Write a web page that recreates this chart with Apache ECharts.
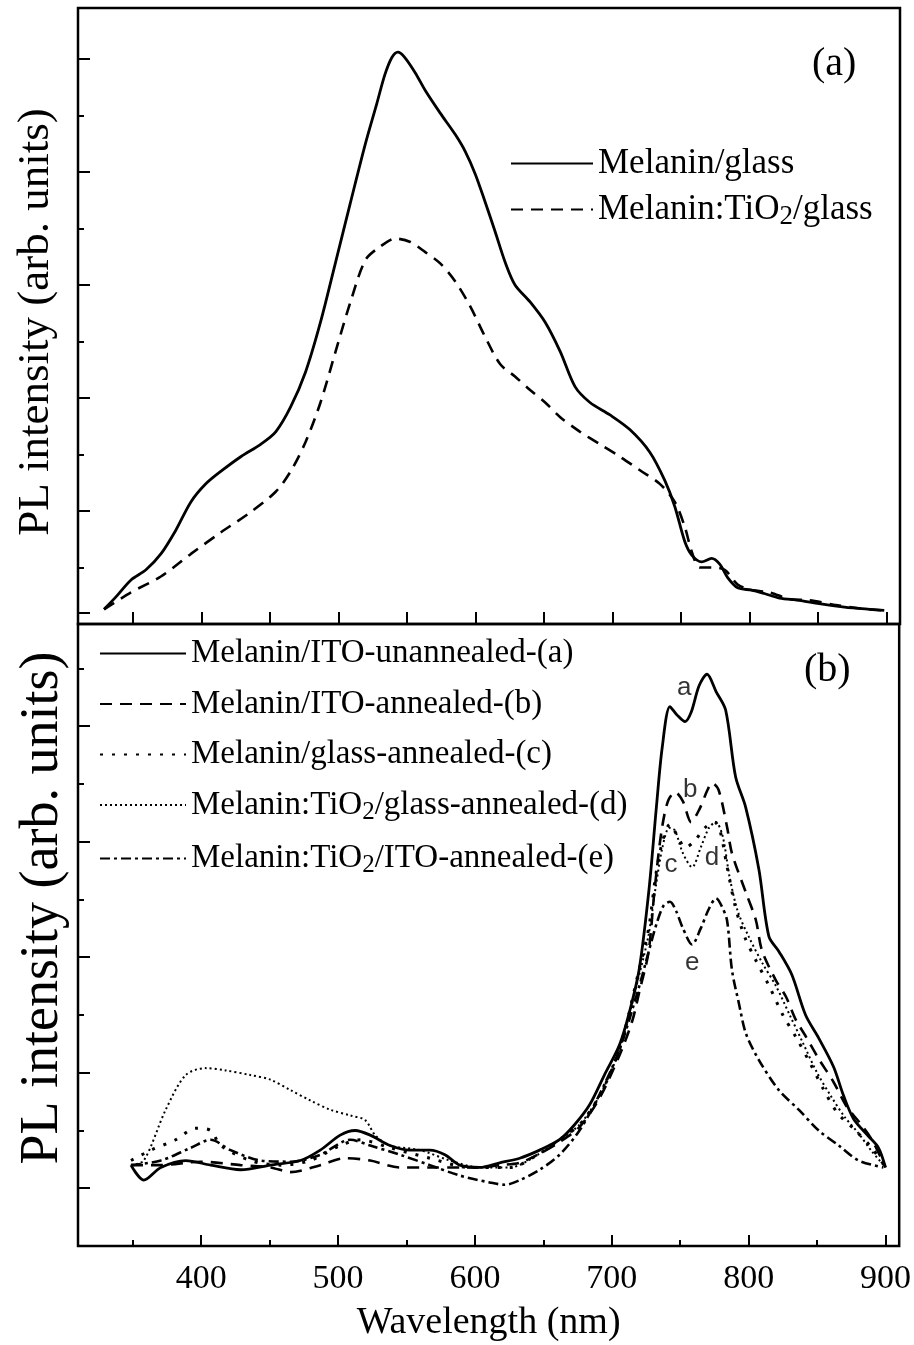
<!DOCTYPE html>
<html>
<head>
<meta charset="utf-8">
<script src="https://cdn.jsdelivr.net/npm/echarts@6/dist/echarts.min.js"></script>
<style>
  html, body { margin: 0; padding: 0; background: #fff; }
  #main { width: 914px; height: 1345px; }
</style>
</head>
<body>
<div id="main"></div>
<script>
// ---- panel (a) ----
const wlGlass = [329, 337.7, 348.7, 359.6, 370.5, 381.4, 392.4, 403.3, 414.2, 428.8, 443.3, 454.3, 465.2, 476.1, 487, 498, 508.9, 519.8, 528, 534, 539, 543.5, 548, 556, 563.5, 574.4, 585.4, 592.7, 600, 607, 614.5, 621.8, 629, 640, 651, 662, 672.8, 683.7, 698.3, 712.8, 727.4, 738.3, 745.6, 752.9, 758, 765.2, 772.5, 778.4, 784.2, 791.5, 801.7, 811, 822, 836.6, 851, 869.5, 887.6, 898.5];
const melaninGlass = [0.13, 0.24, 0.39, 0.48, 0.62, 0.83, 1.08, 1.24, 1.35, 1.48, 1.59, 1.70, 1.92, 2.23, 2.67, 3.20, 3.73, 4.25, 4.60, 4.86, 5.01, 5.06, 5.02, 4.88, 4.72, 4.52, 4.33, 4.18, 3.98, 3.74, 3.47, 3.20, 3.00, 2.85, 2.67, 2.41, 2.10, 1.96, 1.85, 1.72, 1.52, 1.27, 1.04, 0.73, 0.61, 0.55, 0.58, 0.53, 0.41, 0.32, 0.30, 0.27, 0.23, 0.21, 0.18, 0.15, 0.13, 0.12];

const wlTiO2Glass = [329, 348.7, 370.5, 392.4, 414.2, 436, 454.3, 465.2, 476.1, 487, 498, 508.9, 519.8, 530.7, 541.6, 552.6, 563.5, 574.4, 585.4, 596.3, 607.2, 618.1, 629, 640, 651, 662, 676.5, 691, 705.6, 720.2, 734.7, 745.6, 752.9, 758, 763.8, 772.5, 782, 791.5, 801.7, 814.8, 829.4, 844, 862, 880, 898.5];
const melaninTiO2Glass = [0.13, 0.28, 0.42, 0.62, 0.81, 0.99, 1.17, 1.35, 1.61, 1.96, 2.41, 2.85, 3.22, 3.34, 3.41, 3.38, 3.29, 3.19, 3.03, 2.81, 2.54, 2.30, 2.19, 2.07, 1.96, 1.83, 1.70, 1.59, 1.48, 1.36, 1.24, 1.08, 0.86, 0.64, 0.50, 0.50, 0.48, 0.35, 0.30, 0.28, 0.22, 0.21, 0.17, 0.14, 0.12];

// ---- panel (b) ----
const wlUnannealed = [348.7, 358.1, 370.5, 388.7, 406.9, 428.8, 450.6, 472.5, 487, 501.6, 512.5, 523.5, 538, 552.6, 567.1, 578.1, 589, 603.6, 618.1, 632.7, 647.3, 661.8, 672.8, 683.7, 694.6, 705.6, 712.8, 720.1, 727.4, 732.6, 736.9, 742.5, 747.5, 753.6, 758, 763.8, 769.6, 776.2, 783.2, 790.5, 797.8, 807.5, 814.8, 822.1, 831.5, 841.6, 851.2, 862.1, 869.4, 876.7, 887.6, 894.9, 900];
const unannealedITO = [0.70, 0.57, 0.68, 0.74, 0.70, 0.66, 0.70, 0.74, 0.83, 0.96, 1.00, 0.96, 0.87, 0.83, 0.83, 0.79, 0.70, 0.68, 0.72, 0.76, 0.83, 0.92, 1.05, 1.22, 1.48, 1.74, 2.02, 2.40, 3.11, 3.80, 4.32, 4.67, 4.60, 4.54, 4.62, 4.85, 4.95, 4.80, 4.64, 4.06, 3.80, 3.26, 2.68, 2.55, 2.35, 2.00, 1.80, 1.55, 1.30, 1.10, 0.95, 0.85, 0.68];

const wlAnnealedITO = [348.7, 370.5, 399.6, 428.8, 450.6, 465.2, 487, 505.2, 523.5, 545.3, 567.1, 589, 603.6, 618.1, 632.7, 647.3, 661.8, 676.4, 691, 705.6, 715, 720.1, 726.8, 731.1, 736.2, 741, 746.3, 752, 758, 764, 770, 773.3, 778, 784.2, 787.8, 798, 805.3, 809.7, 819.9, 827.2, 834.4, 841.5, 851.2, 862, 872, 880.3, 890, 900];
const annealedITO = [0.70, 0.70, 0.73, 0.70, 0.68, 0.64, 0.70, 0.76, 0.74, 0.68, 0.68, 0.68, 0.68, 0.70, 0.72, 0.80, 0.90, 1.03, 1.28, 1.65, 1.95, 2.20, 2.54, 3.06, 3.58, 3.85, 3.93, 3.85, 3.67, 3.78, 3.95, 4.01, 3.95, 3.63, 3.40, 3.06, 2.82, 2.56, 2.30, 2.16, 1.96, 1.82, 1.62, 1.42, 1.20, 1.08, 0.92, 0.68];

const wlGlassAnnealed = [348.7, 363.4, 381.4, 396, 406.9, 414.2, 436, 457.9, 479.7, 501.6, 516.2, 538, 567.1, 596.3, 625.4, 647.3, 661.8, 676.4, 691, 705.6, 720.1, 727, 732, 737, 742.5, 748, 753.6, 760, 768, 775, 779, 784, 790, 797, 805, 815, 825, 835, 845, 855, 865, 878, 890, 900];
const glassAnnealed = [0.74, 0.83, 0.92, 1.02, 1.00, 0.87, 0.74, 0.70, 0.74, 0.87, 0.92, 0.85, 0.76, 0.68, 0.68, 0.80, 0.92, 1.05, 1.30, 1.70, 2.40, 2.75, 3.20, 3.50, 3.65, 3.55, 3.45, 3.50, 3.62, 3.67, 3.60, 3.30, 2.95, 2.68, 2.48, 2.25, 2.00, 1.80, 1.58, 1.35, 1.15, 1.00, 0.85, 0.68];

const wlTiO2GlassAnnealed = [348.7, 358.1, 374.1, 388.7, 403.3, 417.8, 436, 450.6, 465.2, 479.7, 494.3, 508.9, 519.8, 527.1, 538, 559.9, 581.7, 603.6, 625.4, 647.3, 661.8, 676.4, 691, 705.6, 720.1, 727, 732, 737, 742, 746, 752, 758.7, 765, 771, 776, 781, 786, 792, 800, 810, 820, 830, 840, 850, 860, 870, 880, 890, 900];
const tio2GlassAnnealed = [0.70, 0.74, 1.18, 1.48, 1.54, 1.52, 1.48, 1.44, 1.35, 1.26, 1.18, 1.13, 1.09, 0.96, 0.87, 0.83, 0.74, 0.68, 0.68, 0.80, 0.92, 1.05, 1.30, 1.70, 2.35, 2.70, 3.10, 3.45, 3.62, 3.60, 3.40, 3.28, 3.45, 3.62, 3.67, 3.55, 3.20, 2.90, 2.68, 2.45, 2.25, 2.00, 1.75, 1.50, 1.30, 1.12, 0.98, 0.82, 0.68];

const wlTiO2ITO = [348.7, 370.5, 392.4, 406.9, 421.5, 443.3, 465.2, 487, 508.9, 523.5, 545.3, 567.1, 589, 610.9, 621.8, 632.7, 647.3, 661.8, 676.4, 691, 705.6, 720.1, 727, 733, 738, 742.5, 747, 752, 758.7, 765, 771, 776.2, 780, 784.2, 787.8, 792.9, 798, 807.5, 822, 836.6, 851.2, 865.8, 880.3, 898.5];
const tio2ITOAnnealed = [0.70, 0.74, 0.85, 0.92, 0.83, 0.74, 0.73, 0.79, 0.92, 0.87, 0.79, 0.70, 0.61, 0.55, 0.53, 0.57, 0.66, 0.79, 1.00, 1.31, 1.70, 2.25, 2.55, 2.80, 2.95, 2.98, 2.90, 2.75, 2.61, 2.75, 2.92, 3.01, 2.95, 2.82, 2.39, 2.10, 1.84, 1.61, 1.35, 1.18, 1.00, 0.87, 0.74, 0.68];

// curve letters in panel (b)
const curveLetters = ['a', 'b', 'c', 'd', 'e'];
const letterWl = [752.9, 757.4, 743.2, 773.3, 758.7];
const letterVal = [4.83, 3.95, 3.30, 3.36, 2.45];

// ticks
const xTicksTop = [350, 400, 450, 500, 550, 600, 650, 700, 750, 800, 850, 900];
const xTicksMajor = [400, 500, 600, 700, 800, 900];
const xTicksMinor = [350, 450, 550, 650, 750, 850];
const xLabels = [400, 500, 600, 700, 800, 900];
const yTicksMajorA = [0.1, 1, 2, 3, 4, 5];
const yTicksMinorA = [0.5, 1.5, 2.5, 3.5, 4.5];
const yTicksMajorB = [0.5, 1.5, 2.5, 3.5, 4.5];
const yTicksMinorB = [1, 2, 3, 4, 5];

const serif = 'Liberation Serif';
const black = '#000';
const yTitle = 'PL intensity (arb. units)';

function pairs(xs, ys) {
  return xs.map((x, i) => [x, ys[i]]);
}

function xAxisOf(gridIndex, ticks, len, extra) {
  return Object.assign({
    gridIndex: gridIndex,
    type: 'value',
    position: 'bottom',
    min: 310,
    max: 910,
    axisLine: { show: false },
    axisTick: { inside: true, length: len, customValues: ticks, lineStyle: { color: black, width: 2 } },
    axisLabel: { show: false },
    splitLine: { show: false }
  }, extra || {});
}

function yAxisOf(gridIndex, max, ticks, len) {
  return {
    gridIndex: gridIndex,
    type: 'value',
    position: 'left',
    min: 0,
    max: max,
    axisLine: { show: false },
    axisTick: { inside: true, length: len, customValues: ticks, lineStyle: { color: black, width: 2 } },
    axisLabel: { show: false },
    splitLine: { show: false }
  };
}

function lineSeries(name, xi, yi, xs, ys, type, width) {
  return {
    name: name,
    type: 'line',
    xAxisIndex: xi,
    yAxisIndex: yi,
    data: pairs(xs, ys),
    symbol: 'none',
    smooth: 0.3,
    lineStyle: { color: black, width: width || 2.5, type: type },
    itemStyle: { color: black },
    z: 3
  };
}

// legend text, with the 2 of TiO2 set as a subscript
function richOf(size) {
  return {
    t: { fontSize: size, lineHeight: size + 6, fontFamily: serif, color: black },
    s: { fontSize: size - 8, lineHeight: 2, verticalAlign: 'bottom', fontFamily: serif, color: black }
  };
}
function legendText(name) {
  return '{t|' + name.replace('TiO2', 'TiO}{s|2}{t|') + '}';
}

const option = {
  animation: false,
  backgroundColor: '#fff',
  grid: [
    { left: 78, right: 14, top: 8, height: 616, show: true, borderColor: black, borderWidth: 2.5 },
    { left: 78, right: 14, top: 624, height: 622, show: true, borderColor: black, borderWidth: 2.5 }
  ],
  xAxis: [
    xAxisOf(0, xTicksTop, 12),
    xAxisOf(1, xTicksMajor, 11, {
      axisLabel: { customValues: xLabels, margin: 16, fontSize: 34, fontFamily: serif, color: black },
      name: 'Wavelength (nm)',
      nameLocation: 'middle',
      nameGap: 58,
      nameTextStyle: { fontSize: 38, fontFamily: serif, color: black }
    }),
    xAxisOf(1, xTicksMinor, 6)
  ],
  yAxis: [
    yAxisOf(0, 5.45, yTicksMajorA, 12),
    yAxisOf(0, 5.45, yTicksMinorA, 6),
    yAxisOf(1, 5.385, yTicksMajorB, 12),
    yAxisOf(1, 5.385, yTicksMinorB, 6)
  ],
  legend: [
    {
      orient: 'vertical',
      left: 510,
      top: 146,
      padding: 0,
      itemWidth: 82,
      itemHeight: 12,
      itemGap: 11,
      selectedMode: false,
      itemStyle: { opacity: 0 },
      data: ['Melanin/glass', 'Melanin:TiO2/glass'],
      formatter: legendText,
      textStyle: { rich: richOf(35) }
    },
    {
      orient: 'vertical',
      left: 99,
      top: 637,
      padding: 0,
      itemWidth: 86,
      itemHeight: 12,
      itemGap: 17.5,
      selectedMode: false,
      itemStyle: { opacity: 0 },
      data: ['Melanin/ITO-unannealed-(a)', 'Melanin/ITO-annealed-(b)', 'Melanin/glass-annealed-(c)',
        'Melanin:TiO2/glass-annealed-(d)', 'Melanin:TiO2/ITO-annealed-(e)'],
      formatter: legendText,
      textStyle: { rich: richOf(33) }
    }
  ],
  graphic: [
    { type: 'text', left: 812, top: 44, style: { text: '(a)', font: '40px "Liberation Serif"', fill: black } },
    { type: 'text', left: 804, top: 650, style: { text: '(b)', font: '40px "Liberation Serif"', fill: black } },
    {
      type: 'text', x: 36, y: 322, rotation: Math.PI / 2,
      style: { text: yTitle, font: '45px "Liberation Serif"', fill: black, align: 'center', verticalAlign: 'middle' }
    },
    {
      type: 'text', x: 43, y: 908, rotation: Math.PI / 2,
      style: { text: yTitle, font: '54px "Liberation Serif"', fill: black, align: 'center', verticalAlign: 'middle' }
    }
  ],
  series: [
    lineSeries('Melanin/glass', 0, 0, wlGlass, melaninGlass, 'solid', 2.8),
    lineSeries('Melanin:TiO2/glass', 0, 0, wlTiO2Glass, melaninTiO2Glass, [12, 8], 2.6),
    lineSeries('Melanin/ITO-unannealed-(a)', 1, 2, wlUnannealed, unannealedITO, 'solid', 2.8),
    lineSeries('Melanin/ITO-annealed-(b)', 1, 2, wlAnnealedITO, annealedITO, [12, 8], 2.6),
    lineSeries('Melanin/glass-annealed-(c)', 1, 2, wlGlassAnnealed, glassAnnealed, [3, 9], 3),
    lineSeries('Melanin:TiO2/glass-annealed-(d)', 1, 2, wlTiO2GlassAnnealed, tio2GlassAnnealed, [2, 3], 2),
    lineSeries('Melanin:TiO2/ITO-annealed-(e)', 1, 2, wlTiO2ITO, tio2ITOAnnealed, [10, 4, 3, 4], 2.6),
    {
      type: 'scatter',
      xAxisIndex: 1,
      yAxisIndex: 2,
      symbolSize: 0,
      data: letterWl.map((x, i) => [x, letterVal[i], curveLetters[i]]),
      label: {
        show: true,
        position: 'inside',
        formatter: p => p.value[2],
        fontSize: 26,
        fontFamily: 'Liberation Sans',
        color: black
      },
      z: 5
    }
  ]
};

const chart = echarts.init(document.getElementById('main'), null, { renderer: 'canvas' });
chart.setOption(option);
</script>
</body>
</html>
